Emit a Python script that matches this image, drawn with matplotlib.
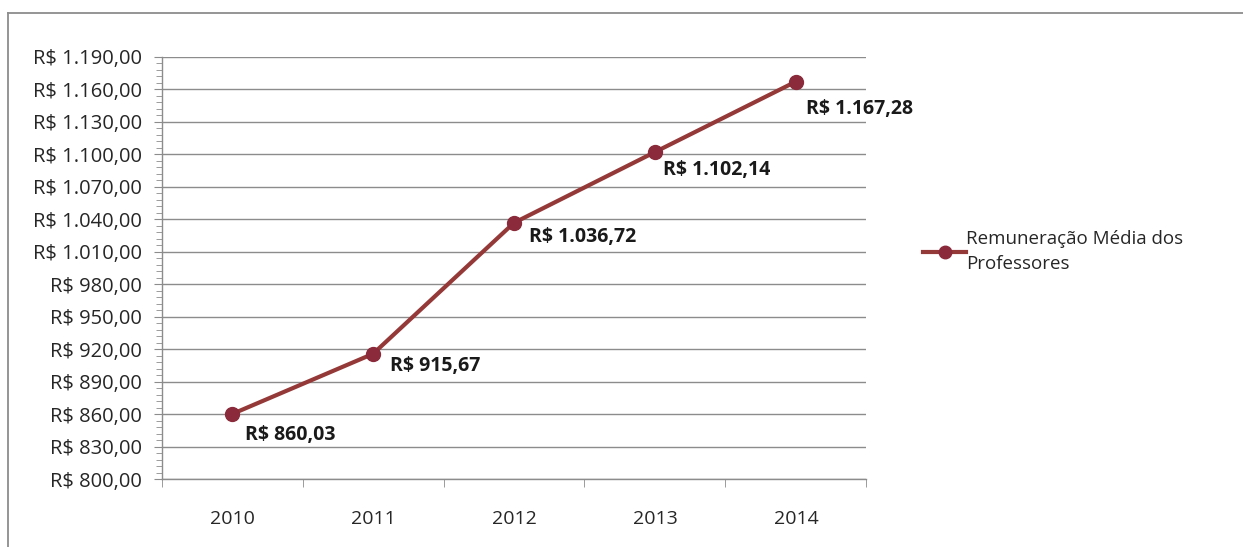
import matplotlib.pyplot as plt
import matplotlib as mpl
from matplotlib.ticker import FixedLocator, FuncFormatter
from matplotlib.lines import Line2D
import numpy as np

years = ["2010", "2011", "2012", "2013", "2014"]
salary = [860.03, 915.67, 1036.72, 1102.14, 1167.28]
series_name = "Remuneração Média dos\nProfessores"
y_min, y_max, y_step = 800, 1190, 30


def brl(v, decimals=2):
    s = f"{v:,.{decimals}f}"
    s = s.replace(",", "X").replace(".", ",").replace("X", ".")
    return "R$ " + s


plt.rcParams["font.family"] = ["Open Sans", "DejaVu Sans"]

line_color = "#953838"
marker_color = "#8a2a3a"
grid_color = "#8c8c8c"
text_color = "#262626"

fig = plt.figure(figsize=(12.43, 5.47), dpi=100)
ax = fig.add_axes([0.130, 0.1243, 0.567, 0.7715])

x = np.arange(len(years))
ax.plot(x, salary, color=line_color, linewidth=3, marker="o", markersize=10,
        markerfacecolor=marker_color, markeredgecolor=marker_color,
        solid_capstyle="round", zorder=3)

# label offsets (points) relative to each data point
offsets = [(9, -15), (12, -9), (11, -10), (6, -13), (7, -20)]
for xi, v, off in zip(x, salary, offsets):
    ax.annotate(brl(v), (xi, v), xytext=off, textcoords="offset points",
                ha="left", va="center", fontsize=14, fontweight="bold",
                color="#1a1a1a")

ax.set_xlim(-0.5, len(years) - 0.5)
ax.set_ylim(y_min, y_max)
ax.yaxis.set_major_locator(FixedLocator(np.arange(y_min, y_max + 1, y_step)))
ax.yaxis.set_minor_locator(FixedLocator(np.arange(y_min, y_max + 1, y_step / 5)))
ax.yaxis.set_major_formatter(FuncFormatter(lambda v, p: brl(v)))
ax.set_xticks(x)
ax.set_xticklabels(years)
ax.set_xticks(np.arange(len(years) + 1) - 0.5, minor=True)

ax.grid(axis="y", which="major", color=grid_color, linewidth=1)
ax.set_axisbelow(True)
for s in ["top", "right"]:
    ax.spines[s].set_visible(False)
for s in ["left", "bottom"]:
    ax.spines[s].set_color(grid_color)
    ax.spines[s].set_linewidth(1)

ax.tick_params(axis="y", which="major", length=6, color=grid_color, labelsize=14.5,
               labelcolor=text_color, pad=8)
ax.tick_params(axis="y", which="minor", length=4, color=grid_color)
ax.tick_params(axis="x", which="major", length=0, labelsize=14,
               labelcolor=text_color, pad=22)
ax.tick_params(axis="x", which="minor", length=6, color=grid_color)

handle = Line2D([], [], color=line_color, linewidth=3, marker="o", markersize=9,
                markerfacecolor=marker_color, markeredgecolor=marker_color)
leg = fig.legend([handle], [series_name], loc="center left",
                 bbox_to_anchor=(0.729, 0.54), frameon=False,
                 fontsize=13.5, handlelength=2.3, handletextpad=0.0,
                 labelcolor=text_color)
for t in leg.get_texts():
    t.set_linespacing(1.55)

# outer chart border (only top and left edges visible)
fig.add_artist(Line2D([0.0064, 1.0], [0.977, 0.977], transform=fig.transFigure,
                      color="#8c8c8c", linewidth=1.3))
fig.add_artist(Line2D([0.0064, 0.0064], [0.0, 0.977], transform=fig.transFigure,
                      color="#8c8c8c", linewidth=1.3))

fig.savefig("out.png", dpi=100)
